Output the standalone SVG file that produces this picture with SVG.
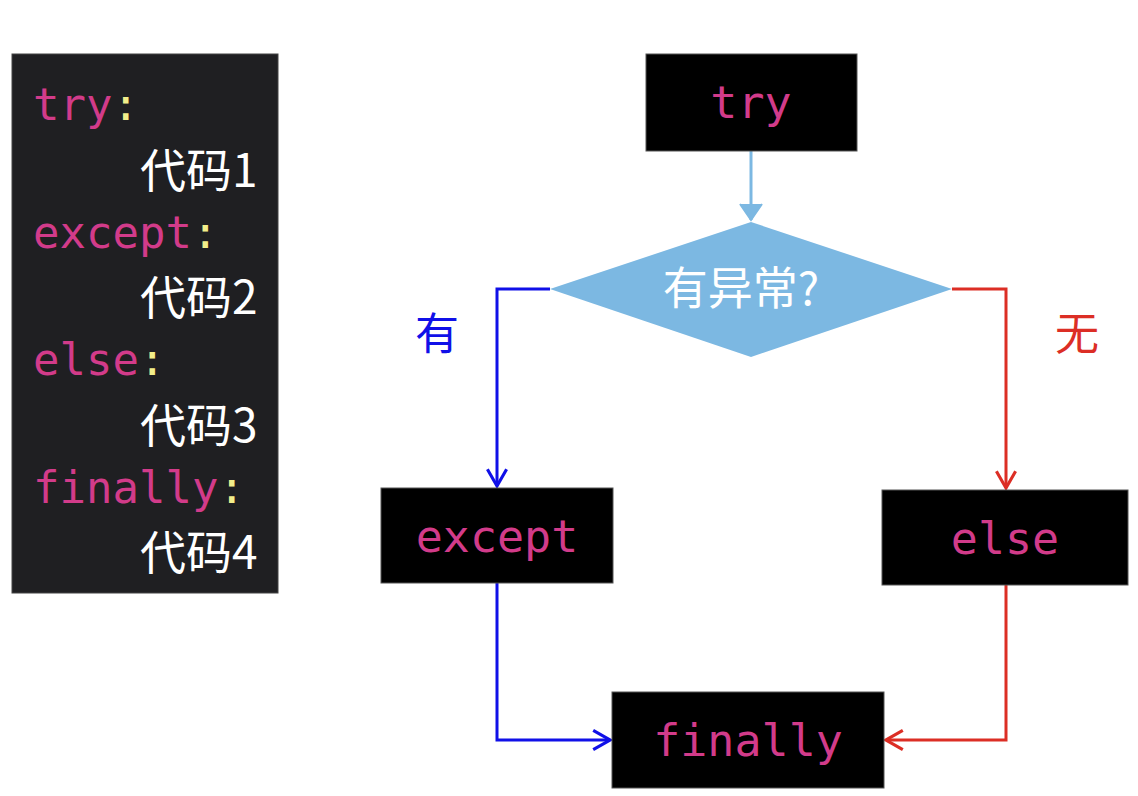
<svg xmlns="http://www.w3.org/2000/svg" width="1138" height="796" viewBox="0 0 1138 796">
<style>
.code{font-family:"DejaVu Sans Mono","Liberation Mono",monospace;font-size:44px;fill:#d23b8a}
.colon{fill:#f2ee8a}
.cn{font-family:"Noto Sans CJK SC","Noto Sans",sans-serif;font-size:46px;fill:#ffffff}
.box{fill:#000000;stroke:#555;stroke-width:1}
.bt{font-family:"DejaVu Sans Mono","Liberation Mono",monospace;font-size:45px;fill:#d23b8a;text-anchor:middle}
.blue{stroke:#1010e8;stroke-width:3;fill:none}
.red{stroke:#dc2e25;stroke-width:3;fill:none}
.lb{stroke:#7cb8e2;stroke-width:3;fill:none}
</style>
<defs>
<marker id="ab" viewBox="0 0 20 20" refX="18" refY="10" markerWidth="24" markerHeight="24" markerUnits="userSpaceOnUse" orient="auto"><path d="M4,2 L18,10 L4,18" fill="none" stroke="#1010e8" stroke-width="2.6"/></marker>
<marker id="ar" viewBox="0 0 20 20" refX="18" refY="10" markerWidth="24" markerHeight="24" markerUnits="userSpaceOnUse" orient="auto"><path d="M4,2 L18,10 L4,18" fill="none" stroke="#dc2e25" stroke-width="2.6"/></marker>
</defs>
<rect width="1138" height="796" fill="#ffffff"/>
<g id="code">
<rect x="12" y="54" width="266" height="539" fill="#1f1f22" stroke="#444" stroke-width="1"/>
<text class="code" x="33" y="120">try<tspan class="colon">:</tspan></text>
<text class="cn" x="140" y="187">代码1</text>
<text class="code" x="33" y="248">except<tspan class="colon">:</tspan></text>
<text class="cn" x="140" y="314">代码2</text>
<text class="code" x="33" y="375">else<tspan class="colon">:</tspan></text>
<text class="cn" x="140" y="442">代码3</text>
<text class="code" x="33" y="503">finally<tspan class="colon">:</tspan></text>
<text class="cn" x="140" y="569">代码4</text>
</g>
<g id="connectors">
<line class="lb" x1="751" y1="151" x2="751" y2="220"/>
<path d="M740,204 L751,220 L762,204" fill="#7cb8e2" stroke="#7cb8e2" stroke-width="2"/>
<path class="blue" d="M550,289 H497 V486" marker-end="url(#ab)"/>
<path class="blue" d="M497,583 V740 H610" marker-end="url(#ab)"/>
<path class="red" d="M952,289 H1006 V488" marker-end="url(#ar)"/>
<path class="red" d="M1006,585 V740 H886" marker-end="url(#ar)"/>
</g>
<g id="try">
<rect class="box" x="646" y="54" width="211" height="97"/>
<text class="bt" x="751" y="118">try</text>
</g>
<g id="decision">
<polygon points="751,222 952,289 751,357 550,289" fill="#7cb8e2"/>
<text x="741" y="305" font-family="Noto Sans CJK SC,Noto Sans,sans-serif" font-size="45" fill="#ffffff" text-anchor="middle">有异常?</text>
</g>
<g id="except">
<rect class="box" x="381" y="488" width="232" height="95"/>
<text class="bt" x="497" y="552">except</text>
</g>
<g id="else">
<rect class="box" x="882" y="490" width="246" height="95"/>
<text class="bt" x="1005" y="554">else</text>
</g>
<g id="finally">
<rect class="box" x="612" y="692" width="272" height="96"/>
<text class="bt" x="748" y="756">finally</text>
</g>
<g id="labels">
<text x="437" y="350" font-family="Noto Sans CJK SC,sans-serif" font-size="44" fill="#1010e8" text-anchor="middle">有</text>
<text x="1077" y="350" font-family="Noto Sans CJK SC,sans-serif" font-size="44" fill="#dc2e25" text-anchor="middle">无</text>
</g>
</svg>
